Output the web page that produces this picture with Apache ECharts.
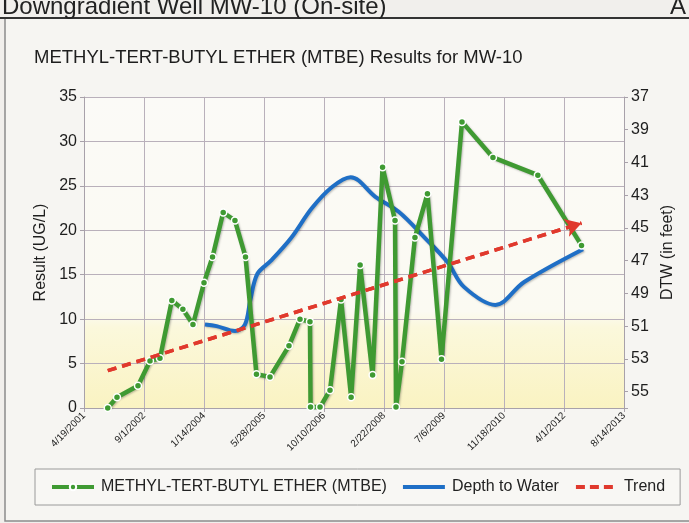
<!DOCTYPE html>
<html>
<head>
<meta charset="utf-8">
<script src="https://cdn.jsdelivr.net/npm/echarts@6/dist/echarts.min.js"></script>
<style>
html,body{margin:0;padding:0;background:#f1efec;}
#chart{width:689px;height:523px;}
</style>
</head>
<body>
<div id="chart"></div>
<script>
// ---- data ----
const xTickLabels = ['4/19/2001','9/1/2002','1/14/2004','5/28/2005','10/10/2006','2/22/2008','7/6/2009','11/18/2010','4/1/2012','8/14/2013'];
const dtwTickLabels = [37,39,41,43,45,47,49,51,53,55];

const mtbeDates = ['2001-11-03','2002-01-19','2002-07-13','2002-10-21','2003-01-12','2003-04-21','2003-07-22','2003-10-14',
  '2004-01-14','2004-03-25','2004-06-22','2004-09-28','2004-12-25','2005-03-26','2005-07-17','2005-12-22',
  '2006-03-24','2006-06-15','2006-06-20','2006-09-07','2006-11-29','2007-03-01','2007-05-24','2007-08-07',
  '2007-11-19','2008-02-10','2008-05-24','2008-06-01','2008-07-21','2008-11-06','2009-02-18','2009-06-15',
  '2009-12-03','2010-08-18','2011-08-27','2012-08-25'];
const mtbeValues = [0.0,1.2,2.5,5.3,5.6,12.1,11.1,9.4,
  14.1,17.0,22.0,21.1,17.0,3.8,3.5,7.0,
  10.0,9.7,0.1,0.1,2.0,12.2,1.2,16.1,
  3.7,27.1,21.1,0.1,5.2,19.2,24.1,5.5,
  32.2,28.2,26.2,18.3];

const dtwDates = ['2004-01-22','2004-04-28','2004-09-28','2004-12-20','2005-02-03','2005-04-03','2005-07-25','2006-01-10',
  '2006-06-30','2006-12-16','2007-05-20','2007-12-12','2008-06-21','2009-01-27','2009-08-05','2009-12-19',
  '2010-09-07','2011-05-05','2012-09-06'];
const dtwValues = [50.9,51.0,51.3,50.9,49.4,47.8,47.0,45.6,
  43.8,42.5,41.9,43.1,44.0,45.6,47.1,48.6,
  49.7,48.3,46.3];

const trendDates = ['2001-11-03','2012-08-25'];
const trendValues = [4.2,20.8];

// ---- helpers ----
const ORIGIN = Date.UTC(2001,3,19);
const dayOf = d => (Date.parse(d) - ORIGIN) / 864e5;
const pairs = (ds, vs) => ds.map((d,i) => [dayOf(d), vs[i]]);

const FONT = 'Liberation Sans, Arial, sans-serif';
const GREEN = '#3f9a32', BLUE = '#1f6fc6', RED = '#e0392d';

const trendData = pairs(trendDates, trendValues);

const BOUNDS = ' M0,0h0.01v0.01h-0.01z M42,8h0.01v0.01h-0.01z';
const ICON_BLUE = 'path://M0,2h42v4h-42z' + BOUNDS;
const ICON_RED = 'path://M1,2h9v4h-9z M15,2h9v4h-9z M29,2h9v4h-9z' + BOUNDS;

const chart = echarts.init(document.getElementById('chart'), null, {renderer:'canvas'});
chart.setOption({
  animation:false,
  backgroundColor:'#f1efec',
  textStyle:{fontFamily:FONT},
  graphic:[
    {type:'rect', shape:{x:5,y:18,width:700,height:503}, style:{fill:'#f6f5f2', stroke:'#8c8c8c', lineWidth:1.5}, z:-10},
    {type:'line', shape:{x1:0,y1:18,x2:689,y2:18}, style:{stroke:'#333', lineWidth:2}, z:-9},
    {type:'text', x:2, y:19, style:{text:'Downgradient Well MW-10 (On-site)', font:'24px '+FONT, fill:'#222', verticalAlign:'bottom'}},
    {type:'text', x:670, y:19, style:{text:'A', font:'24px '+FONT, fill:'#222', verticalAlign:'bottom'}}
  ],
  title:{
    text:'METHYL-TERT-BUTYL ETHER (MTBE) Results for MW-10',
    left:29, top:43,
    textStyle:{fontSize:18.5, fontWeight:'normal', color:'#1e1e1e', fontFamily:FONT}
  },
  legend:{
    left:35, top:469,
    padding:[10,15,10,15],
    itemWidth:42, itemHeight:8, itemGap:16,
    borderColor:'#9a9a9a', borderWidth:1,
    backgroundColor:'#f8f7f4',
    textStyle:{fontSize:16, color:'#222', fontFamily:FONT, padding:[0,0,0,2]},
    data:[
      {name:'METHYL-TERT-BUTYL ETHER (MTBE)', lineStyle:{width:4}},
      {name:'Depth to Water', icon:ICON_BLUE},
      {name:'Trend', icon:ICON_RED}
    ]
  },
  grid:{
    left:84, right:65, top:97, bottom:115,
    show:true, borderWidth:0,
    backgroundColor:{type:'linear', x:0,y:0,x2:0,y2:1, colorStops:[
      {offset:0, color:'#fbfaf7'},{offset:0.69, color:'#fbfaf2'},{offset:0.74, color:'#fbf8dc'},{offset:1, color:'#faf3c2'}]}
  },
  xAxis:{
    type:'value', min:0, max:4500, interval:500,
    axisLine:{show:true, lineStyle:{color:'#a8a1aa', width:1}},
    axisTick:{show:true, length:4, lineStyle:{color:'#a8a1aa'}},
    splitLine:{show:true, lineStyle:{color:'#b9b0bb', width:1}},
    axisLabel:{rotate:45, fontSize:10, color:'#222', margin:6,
      formatter:v => xTickLabels[Math.round(v/500)] || ''}
  },
  yAxis:[
    {
      type:'value', min:0, max:35, interval:5, position:'left',
      name:'Result (UG/L)', nameLocation:'middle', nameGap:28, nameRotate:90,
      nameTextStyle:{fontSize:16, color:'#1e1e1e'},
      axisLine:{show:true, lineStyle:{color:'#a8a1aa'}},
      axisTick:{show:true, length:4, lineStyle:{color:'#a8a1aa'}},
      splitLine:{show:true, lineStyle:{color:'#b9b0bb', width:1}},
      axisLabel:{fontSize:16, color:'#1e1e1e', margin:7}
    },
    {
      type:'value', min:37, max:56, interval:2, position:'right', inverse:true,
      name:'DTW (in feet)', nameLocation:'middle', nameGap:35, nameRotate:90,
      nameTextStyle:{fontSize:16, color:'#1e1e1e'},
      axisLine:{show:true, lineStyle:{color:'#a8a1aa'}},
      axisTick:{show:true, length:4, lineStyle:{color:'#a8a1aa'}},
      splitLine:{show:false},
      axisLabel:{fontSize:16, color:'#1e1e1e', margin:7,
        formatter:v => dtwTickLabels.indexOf(v) >= 0 ? String(v) : ''}
    }
  ],
  series:[
    {
      name:'METHYL-TERT-BUTYL ETHER (MTBE)', type:'line', yAxisIndex:0,
      data:pairs(mtbeDates, mtbeValues),
      symbol:'circle', symbolSize:7, showSymbol:true,
      lineStyle:{color:GREEN, width:4.5, shadowColor:'rgba(0,0,0,0.25)', shadowBlur:2, shadowOffsetX:1, shadowOffsetY:1},
      itemStyle:{color:GREEN, borderColor:'#ffffff', borderWidth:1.5},
      z:3
    },
    {
      name:'Depth to Water', type:'line', yAxisIndex:1,
      data:pairs(dtwDates, dtwValues),
      smooth:0.35, symbol:'none',
      lineStyle:{color:BLUE, width:4, shadowColor:'rgba(0,0,0,0.25)', shadowBlur:2, shadowOffsetX:1, shadowOffsetY:1},
      itemStyle:{color:BLUE},
      z:2
    },
    {
      name:'Trend', type:'line', yAxisIndex:0,
      data:trendData, symbol:'none',
      lineStyle:{color:RED, width:3.5, type:[9,6]},
      itemStyle:{color:RED},
      z:4,
      markLine:{
        silent:true, symbol:['none','arrow'], symbolSize:[14,16],
        label:{show:false},
        lineStyle:{color:RED, width:3.5, type:[9,6]},
        data:[[{coord:trendData[0]},{coord:trendData[1]}]]
      }
    }
  ]
});
</script>
</body>
</html>
